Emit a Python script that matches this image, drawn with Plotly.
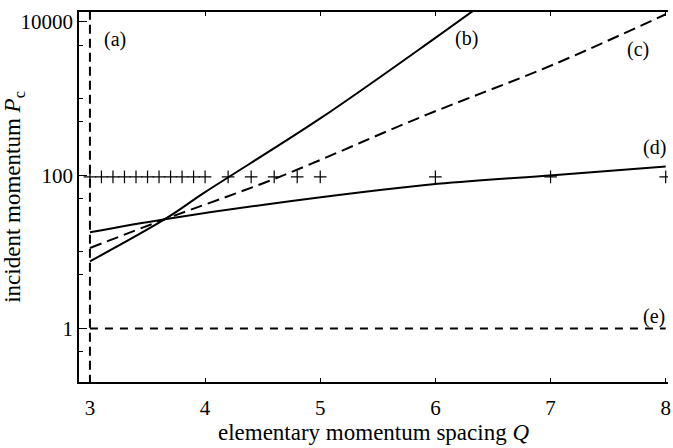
import math
import plotly.graph_objects as go

# (b) solid
q_b = [3.0, 3.65, 4.0, 5.0, 6.0, 6.35]
p_b = [7.5, 26.6, 60, 550, 6200, 14800]
# (c) dashed
q_c = [3.0, 3.65, 4.63, 5.87, 7.03, 8.0]
p_c = [11.2, 26.6, 93, 570, 2800, 12600]
# (d) solid
q_d = [3.0, 3.65, 4.48, 6.02, 7.02, 8.0]
p_d = [18, 26.6, 40.5, 77, 100, 130]
# (a) vertical dashed at Q=3
q_a = [3.0, 3.0]
p_a = [0.19, 14000]
# (e) horizontal dashed at P=1
q_e = [3.0, 8.0]
p_e = [1, 1]
# plus markers
q_plus = [3.0, 3.1, 3.2, 3.3, 3.4, 3.5, 3.6, 3.7, 3.8, 3.9, 4.0,
          4.2, 4.4, 4.6, 4.8, 5.0, 6.0, 7.0, 8.0]
p_plus = [95] * len(q_plus)

labels = ["(a)", "(b)", "(c)", "(d)", "(e)"]
label_q = [3.22, 6.27, 7.76, 7.9, 7.9]
label_p = [5900, 6000, 4400, 230, 1.45]

fig = go.Figure()
blk = "black"
fig.add_trace(go.Scatter(x=q_a, y=p_a, mode="lines",
                         line=dict(color=blk, width=2, dash="9px,5px")))
fig.add_trace(go.Scatter(x=q_b, y=p_b, mode="lines",
                         line=dict(color=blk, width=2, shape="spline")))
fig.add_trace(go.Scatter(x=q_c, y=p_c, mode="lines",
                         line=dict(color=blk, width=2, dash="12px,6px", shape="spline")))
fig.add_trace(go.Scatter(x=q_d, y=p_d, mode="lines",
                         line=dict(color=blk, width=2, shape="spline")))
fig.add_trace(go.Scatter(x=q_e, y=p_e, mode="lines",
                         line=dict(color=blk, width=2, dash="8px,7px")))
fig.add_trace(go.Scatter(x=q_plus, y=p_plus, mode="markers",
                         marker=dict(symbol="cross-thin", size=9,
                                     line=dict(color=blk, width=1.2))))

for t, qx, py in zip(labels, label_q, label_p):
    fig.add_annotation(x=qx, y=math.log10(py), yref="y", xref="x", text=t,
                       showarrow=False,
                       font=dict(family="Liberation Serif", size=20, color=blk))

fig.update_layout(
    width=673, height=448,
    margin=dict(l=79, r=5, t=12, b=66, autoexpand=False),
    plot_bgcolor="white", paper_bgcolor="white",
    showlegend=False,
    font=dict(family="Liberation Serif", size=21, color=blk),
)
fig.update_xaxes(range=[2.905, 8.02], tickvals=[3, 4, 5, 6, 7, 8],
                 ticks="inside", ticklen=4, tickcolor=blk,
                 tickfont=dict(family="Liberation Serif", size=21, color=blk),
                 ticklabelstandoff=6,
                 ticklabeloverflow="allow", automargin=False,
                 showline=True, linecolor=blk, linewidth=1.5, mirror="ticks",
                 showgrid=False, zeroline=False,
                 title=dict(text="elementary momentum spacing <i>Q</i>", standoff=0,
                            font=dict(size=23)))
fig.update_yaxes(type="log", range=[-0.70, 4.13], tickvals=[1, 100, 10000],
                 ticktext=["1", "100", "10000"],
                 ticks="inside", ticklen=8, tickcolor=blk,
                 tickfont=dict(family="Liberation Serif", size=21, color=blk),
                 automargin=False,
                 minor=dict(tickvals=[0.5, 5, 10, 50, 500, 1000, 5000],
                            ticks="inside", ticklen=4, tickcolor=blk),
                 showline=True, linecolor=blk, linewidth=1.5,
                 showgrid=False, zeroline=False,
                 title=dict(text="incident momentum <i>P</i><sub>c</sub>", standoff=4,
                            font=dict(size=23)))
fig.write_html("out.html", config={"displayModeBar": False},
               post_script="document.body.style.margin='0';")
